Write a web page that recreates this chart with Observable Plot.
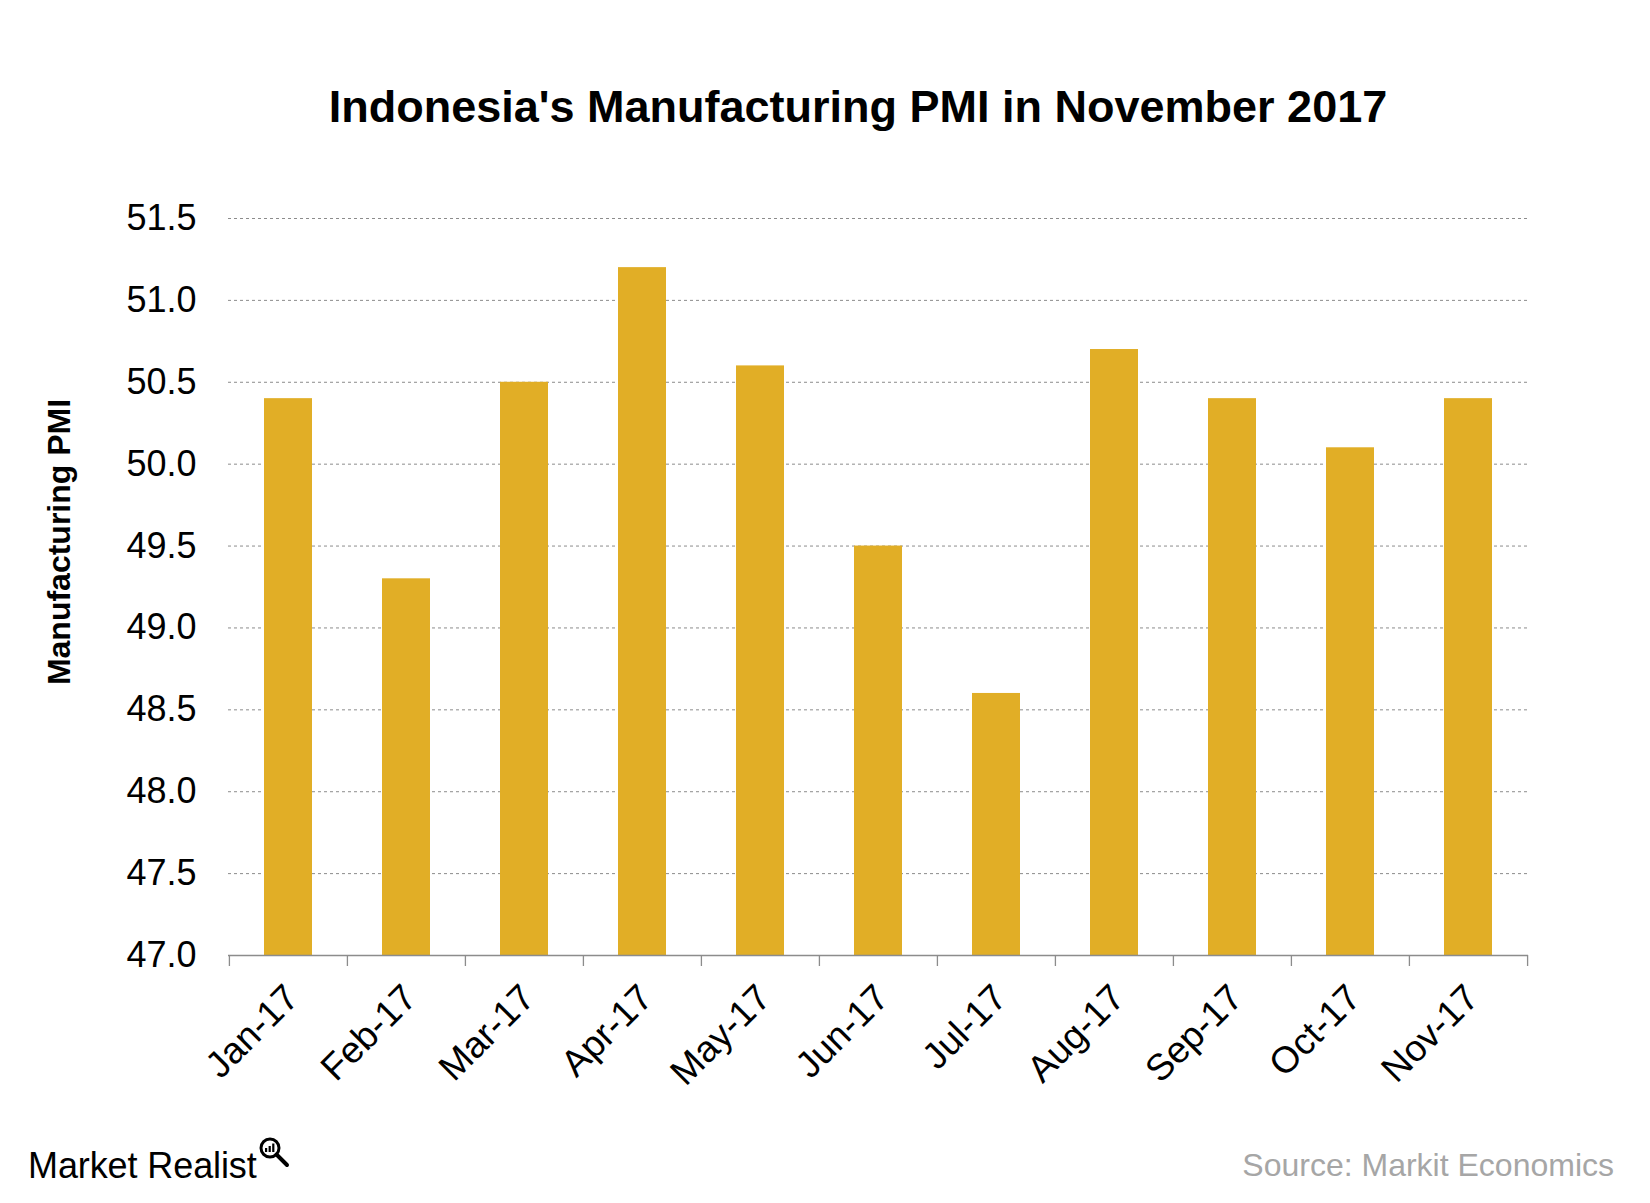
<!DOCTYPE html>
<html>
<head>
<meta charset="utf-8">
<script src="https://cdn.jsdelivr.net/npm/d3@7"></script>
<script src="https://cdn.jsdelivr.net/npm/@observablehq/plot@0.6"></script>
<style>
  html, body { margin: 0; padding: 0; background: #fff; }
  #wrap { position: relative; width: 1650px; height: 1203px; font-family: "Liberation Sans", Arial, sans-serif; color: #000; }
  #title { position: relative; width: 1650px; height: 160px; }
  #title span { position: absolute; left: 0; width: 1650px; padding-left: 66px; box-sizing: border-box; text-align: center; top: 84px; font-size: 45px; line-height: 45px; font-weight: bold; white-space: nowrap; }
  #chart { position: relative; width: 1650px; height: 960px; }
  #ylabel { position: absolute; left: 59px; top: 542px; transform: translate(-50%, -50%) rotate(-90deg); font-size: 32px; font-weight: bold; white-space: nowrap; line-height: 32px; }
  #footer { position: relative; width: 1650px; height: 83px; }
  #brand { position: absolute; left: 28px; top: 28px; font-size: 36px; line-height: 36px; letter-spacing: -0.1px; white-space: nowrap; }
  #icon { position: absolute; left: 257px; top: 16px; }
  #source { position: absolute; right: 36px; top: 29px; font-size: 32px; line-height: 32px; color: #a6a6a6; white-space: nowrap; }
</style>
</head>
<body>
<div id="wrap">
  <div id="title"><span>Indonesia's Manufacturing PMI in November 2017</span></div>
  <div id="chart"></div>
  <div id="footer">
    <div id="brand">Market Realist</div>
    <svg id="icon" width="40" height="34" viewBox="0 0 40 34">
      <circle cx="13" cy="12" r="9" fill="none" stroke="#000" stroke-width="3"/>
      <line x1="19.5" y1="18.5" x2="30" y2="29" stroke="#000" stroke-width="4" stroke-linecap="round"/>
      <rect x="8" y="12" width="2.2" height="4" fill="#000"/>
      <rect x="11.6" y="10" width="2.2" height="6" fill="#000"/>
      <rect x="15.2" y="7.5" width="2.2" height="8.5" fill="#000"/>
    </svg>
    <div id="source">Source: Markit Economics</div>
  </div>
  <div id="ylabel">Manufacturing PMI</div>
</div>
<script>
const months = ["Jan-17", "Feb-17", "Mar-17", "Apr-17", "May-17", "Jun-17", "Jul-17", "Aug-17", "Sep-17", "Oct-17", "Nov-17"];
const pmi = [50.4, 49.3, 50.5, 51.2, 50.6, 49.5, 48.6, 50.7, 50.4, 50.1, 50.4];
const yTicks = [47.0, 47.5, 48.0, 48.5, 49.0, 49.5, 50.0, 50.5, 51.0, 51.5];

const data = months.map((m, i) => ({month: m, value: pmi[i]}));

const W = 1650, H = 960, mL = 228, mR = 122, mT = 58, mB = 165;
const step = (W - mL - mR) / months.length;
const frameH = H - mT - mB;
const font = "'Liberation Sans', Arial, sans-serif";

const chart = Plot.plot({
  width: W,
  height: H,
  marginLeft: mL,
  marginRight: mR,
  marginTop: mT,
  marginBottom: mB,
  style: {fontFamily: font, fontSize: "36px", color: "#000", background: "#fff", overflow: "visible"},
  x: {type: "band", domain: months, paddingInner: 0.594, paddingOuter: 0.297},
  y: {domain: [yTicks[0], yTicks[yTicks.length - 1]]},
  marks: [
    Plot.ruleY(yTicks.slice(1), {stroke: "#8c8c8c", strokeWidth: 1, strokeDasharray: "3,3"}),
    Plot.barY(data, {x: "month", y1: yTicks[0], y2: "value", fill: "#E1AE26"}),
    Plot.ruleY([yTicks[0]], {stroke: "#8c8c8c", strokeWidth: 1.3}),
    Plot.ruleX(months, {x: d => d, dx: -step / 2, insetTop: frameH, insetBottom: -11, stroke: "#8c8c8c", strokeWidth: 1.3}),
    Plot.ruleX([months[months.length - 1]], {x: d => d, dx: step / 2, insetTop: frameH, insetBottom: -11, stroke: "#8c8c8c", strokeWidth: 1.3}),
    Plot.axisY({ticks: yTicks, tickFormat: d3.format(".1f"), tickSize: 0, tickPadding: 32, label: null, fontSize: 36, fill: "#000"}),
    Plot.axisX({tickSize: 0, tickRotate: -45, tickPadding: 36, dx: 4, label: null, fontSize: 37, fill: "#000"})
  ]
});
document.getElementById("chart").appendChild(chart);
</script>
</body>
</html>
